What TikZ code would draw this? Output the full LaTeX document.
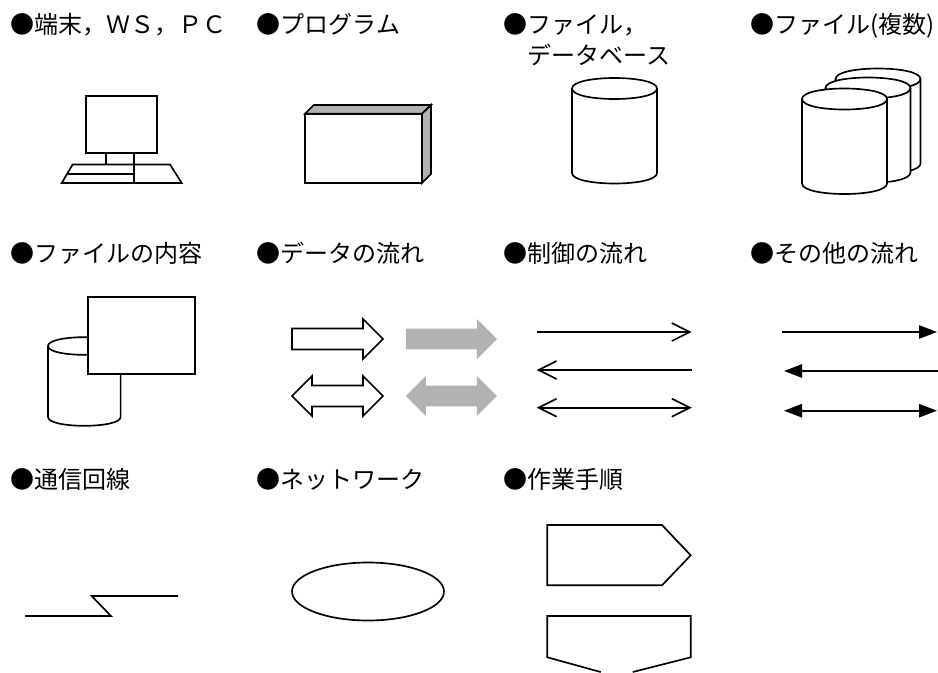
\documentclass[tikz,border=0pt]{standalone}
\usepackage{fontspec}
\usepackage{tikz}
\usetikzlibrary{arrows.meta,shapes.geometric,shapes.arrows}
\newfontfamily\cjk{Noto Sans CJK JP}

\begin{document}
\begin{tikzpicture}[
		x=0.75pt,y=-0.75pt,
		line width=1.25pt,
		label/.style={anchor=base west, inner sep=0pt, font=\cjk\fontsize{18}{18}\selectfont},
		dbfile/.pic={
			\draw[fill=white] (-42.5,0) .. controls (-42.5,-14) and (42.5,-14) .. (42.5,0) -- (42.5,84.5) .. controls (42.5,98.5) and (-42.5,98.5) .. (-42.5,84.5) -- cycle;
			\draw (-42.5,0) .. controls (-42.5,14) and (42.5,14) .. (42.5,0);
		},
		flowone/.style={single arrow, single arrow head extend=7.2pt, single arrow tip angle=90, inner xsep=0pt, inner ysep=7.2pt, outer sep=0pt, minimum height=68.25pt},
		flowtwo/.style={double arrow, double arrow head extend=7.2pt, double arrow tip angle=90, inner xsep=0pt, inner ysep=7.2pt, outer sep=0pt, minimum height=68.25pt},
		openr/.style={-{Straight Barb[length=13.5pt,width=13.5pt]}},
		openl/.style={{Straight Barb[length=13.5pt,width=13.5pt]}-},
		openb/.style={{Straight Barb[length=13.5pt,width=13.5pt]}-{Straight Barb[length=13.5pt,width=13.5pt]}},
		solidr/.style={-{Triangle[length=13.5pt,width=10pt]}},
		solidl/.style={{Triangle[length=13.5pt,width=10pt]}-},
		solidb/.style={{Triangle[length=13.5pt,width=10pt]}-{Triangle[length=13.5pt,width=10pt]}}
	]
		\useasboundingbox (0,0) rectangle (938,672);
		
		\node[label](lbl-term) at (10,33){●端末，ＷＳ，ＰＣ};
		\node[label](lbl-prog) at (256,33){●プログラム};
		\node[label](lbl-file) at (503,33){●ファイル，};
		\node[label](lbl-base) at (527,64){データベース};
		\node[label](lbl-files) at (750,33){●ファイル(複数)};
		\node[label](lbl-cont) at (10,262){●ファイルの内容};
		\node[label](lbl-data) at (256,262){●データの流れ};
		\node[label](lbl-ctrl) at (503,262){●制御の流れ};
		\node[label](lbl-other) at (750,262){●その他の流れ};
		\node[label](lbl-line) at (10,488){●通信回線};
		\node[label](lbl-net) at (256,488){●ネットワーク};
		\node[label](lbl-work) at (503,488){●作業手順};
		
		\draw (86,96) rectangle (157,153);
		\draw (106,153) -- (106,164.5);
		\draw (134,153) -- (134,183);
		\draw (72.7,164.5) -- (170,164.5) -- (181.7,183) -- (61.7,183) -- cycle;
		\draw (67.2,174) -- (134,174);
		
		\draw[fill=black!30] (305,113.7) -- (313.7,105) -- (431,105) -- (422,113.7) -- cycle;
		\draw[fill=black!30] (422,113.7) -- (431,105) -- (431,174) -- (422,183) -- cycle;
		\draw (305,113.7) rectangle (422,183);
		
		\pic (db) at (614.5,88.5) {dbfile};
		\pic (db-back) at (878,79) {dbfile};
		\pic (db-mid) at (868,88) {dbfile};
		\pic (db-front) at (844.5,99) {dbfile};
		
		\pic[xscale=0.855,yscale=0.84] (db-cont) at (84.3,346) {dbfile};
		\draw[fill=white] (87.7,296.7) rectangle (195.3,374);
		
		\node[flowone, draw=black, fill=white](flow-a) at (292,339)[anchor=tail]{};
		\node[flowone, fill=black!30](flow-b) at (406,339)[anchor=tail]{};
		\node[flowtwo, draw=black, fill=white](flow-c) at (337.5,396){};
		\node[flowtwo, fill=black!30](flow-d) at (451.3,396){};
		
		\coordinate (ctl-a) at (536.7,332);
		\coordinate (ctl-b) at (691.7,332);
		\coordinate (ctl-c) at (536.7,370);
		\coordinate (ctl-d) at (691.7,370);
		\coordinate (ctl-e) at (536.7,407.7);
		\coordinate (ctl-f) at (691.7,407.7);
		\draw[openr](ctl-a) -- (ctl-b);
		\draw[openl](ctl-c) -- (ctl-d);
		\draw[openb](ctl-e) -- (ctl-f);
		
		\coordinate (oth-a) at (782,332);
		\coordinate (oth-b) at (937,332);
		\coordinate (oth-c) at (784,371);
		\coordinate (oth-d) at (938,371);
		\coordinate (oth-e) at (784,410.7);
		\coordinate (oth-f) at (937,410.7);
		\draw[solidr](oth-a) -- (oth-b);
		\draw[solidl](oth-c) -- (oth-d);
		\draw[solidb](oth-e) -- (oth-f);
		
		\draw (25,616) -- (111,616) -- (91.7,596) -- (178,596);
		
		\node[ellipse, draw=black, inner sep=0pt, minimum width=114pt, minimum height=43.5pt](net) at (368,591.5){};
		
		\draw (547.3,525) -- (662,525) -- (690.7,555.3) -- (662,585.3) -- (547.3,585.3) -- cycle;
		\draw (600.7,672) -- (547.3,657.3) -- (547.3,616) -- (690.7,616) -- (690.7,657.3) -- (632.7,672);
	\end{tikzpicture}
\end{document}
